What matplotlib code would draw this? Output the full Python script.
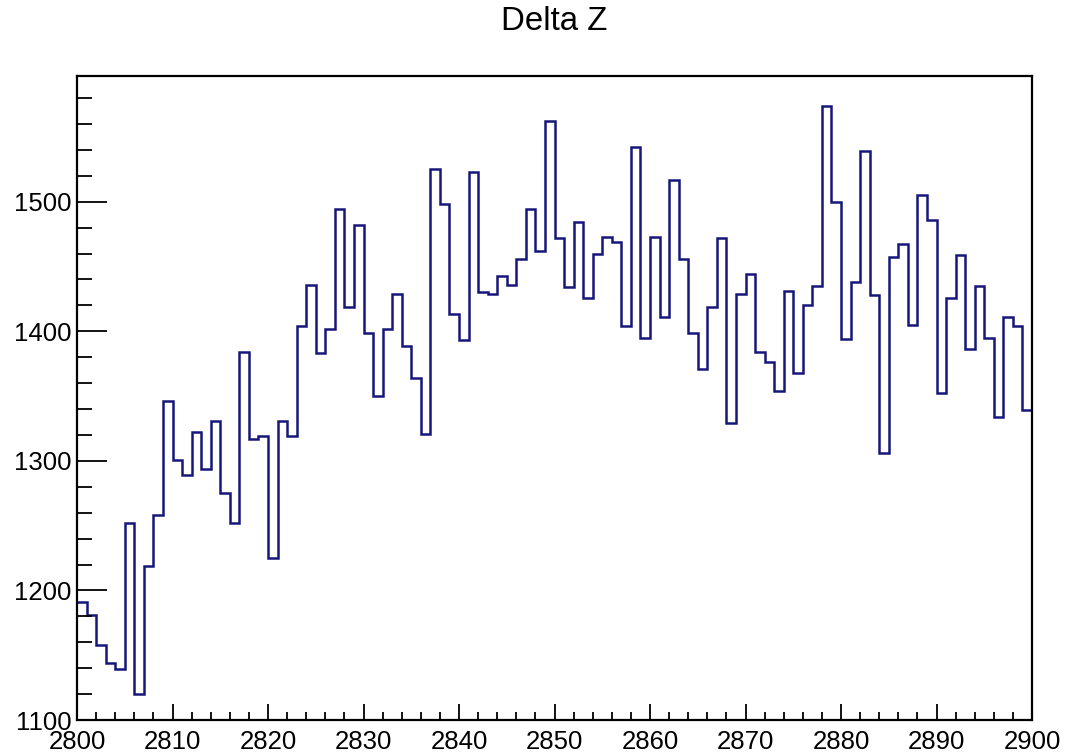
import numpy as np
import matplotlib.pyplot as plt
from matplotlib.ticker import MultipleLocator

plt.rcParams['font.family'] = ['Liberation Sans', 'DejaVu Sans']

# bin contents, 1 unit wide bins from 2800 to 2900
bin_edges = np.arange(2800, 2901, 1)
counts = [
    1191, 1181, 1158, 1144, 1139, 1252, 1120, 1219, 1258, 1346,
    1301, 1289, 1322, 1294, 1331, 1275, 1252, 1384, 1317, 1319,
    1225, 1331, 1319, 1404, 1436, 1383, 1402, 1494, 1419, 1482,
    1399, 1350, 1402, 1429, 1389, 1364, 1321, 1525, 1498, 1413,
    1393, 1523, 1430, 1429, 1443, 1436, 1456, 1494, 1462, 1562,
    1472, 1434, 1484, 1426, 1460, 1473, 1469, 1404, 1542, 1395,
    1473, 1411, 1517, 1456, 1399, 1371, 1419, 1472, 1329, 1429,
    1444, 1384, 1376, 1354, 1431, 1368, 1420, 1435, 1574, 1500,
    1394, 1438, 1539, 1428, 1306, 1457, 1467, 1405, 1505, 1486,
    1352, 1426, 1459, 1386, 1435, 1395, 1334, 1411, 1404, 1339,
]
title = "Delta Z"


def main():
    fig = plt.figure(figsize=(10.67, 7.56), dpi=100)
    ax = fig.add_axes([77 / 1067, 1 - 720 / 756, (1032 - 77) / 1067, (720 - 76) / 756])

    ax.stairs(counts, bin_edges, baseline=None, color='#16167a', linewidth=1.8)

    ax.set_xlim(2800, 2900)
    ax.set_ylim(1100, 1597)

    ax.xaxis.set_major_locator(MultipleLocator(10))
    ax.xaxis.set_minor_locator(MultipleLocator(2))
    ax.yaxis.set_major_locator(MultipleLocator(100))
    ax.yaxis.set_minor_locator(MultipleLocator(20))

    ax.tick_params(axis='both', which='both', direction='in', top=False, right=False,
                   width=1.3, labelsize=18.5, color='black')
    ax.tick_params(axis='y', which='major', length=21.5, pad=4)
    ax.tick_params(axis='y', which='minor', length=10.8)
    ax.tick_params(axis='x', which='major', length=11.5, pad=7.5)
    ax.tick_params(axis='x', which='minor', length=5.5)

    for s in ax.spines.values():
        s.set_linewidth(1.6)

    fig.text(0.519, 0.971, title, ha='center', va='center', fontsize=23.8)

    plt.savefig('out.png', dpi=100)


if __name__ == '__main__':
    main()
